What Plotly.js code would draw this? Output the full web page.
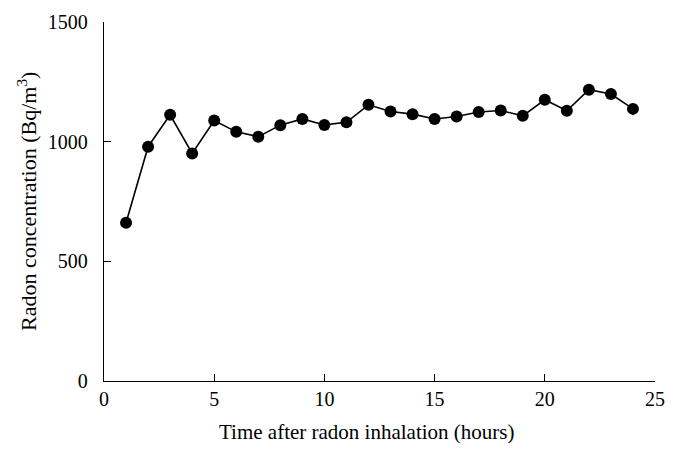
<!DOCTYPE html>
<html>
<head>
<meta charset="utf-8">
<script src="https://cdn.plot.ly/plotly-3.0.1.min.js"></script>
<style>html,body{margin:0;padding:0;background:#fff;}#chart{width:678px;height:456px;}</style>
</head>
<body>
<div id="chart"></div>
<script>
const hours = [1,2,3,4,5,6,7,8,9,10,11,12,13,14,15,16,17,18,19,20,21,22,23,24];
const radon = [661,979,1112,951,1088,1041,1021,1069,1095,1070,1081,1154,1126,1115,1095,1105,1124,1130,1108,1175,1129,1217,1199,1137];
const xTicks = [0,5,10,15,20,25];
const yTicks = [0,500,1000,1500];
const xTitle = 'Time after radon inhalation (hours)';
const yTitle = 'Radon concentration (Bq/m<sup>3</sup>)';

const fontFam = '"Liberation Serif", "DejaVu Serif", serif';
const L = 104, R = 23, T = 22, B = 75, W = 678, H = 456;
const pw = W - L - R, ph = H - T - B;

Plotly.newPlot('chart', [{
  x: hours, y: radon, type: 'scatter', mode: 'lines+markers',
  line: {color: '#000', width: 1.6},
  marker: {color: '#000', size: 12},
  cliponaxis: false
}], {
  width: W, height: H,
  margin: {l: L, r: R, t: T, b: B},
  paper_bgcolor: '#fff', plot_bgcolor: '#fff',
  showlegend: false,
  font: {family: fontFam, color: '#000', size: 20},
  xaxis: {
    range: [0, 25], tickvals: xTicks, ticktext: xTicks.map(String),
    showline: true, linecolor: '#000', linewidth: 1.3,
    ticks: 'inside', ticklen: 7, tickwidth: 1.3, tickcolor: '#000',
    showgrid: false, zeroline: false,
    tickfont: {family: fontFam, size: 20}, ticklabelstandoff: 0
  },
  yaxis: {
    range: [0, 1500], tickvals: yTicks, ticktext: yTicks.map(String),
    showline: true, linecolor: '#000', linewidth: 1.3,
    ticks: 'inside', ticklen: 7, tickwidth: 1.3, tickcolor: '#000',
    showgrid: false, zeroline: false,
    tickfont: {family: fontFam, size: 20}, ticklabelstandoff: 11
  },
  annotations: [
    {text: xTitle, xref: 'paper', yref: 'paper', x: (367 - L) / pw, y: (H - B - 432) / ph,
     xanchor: 'center', yanchor: 'middle', showarrow: false, font: {family: fontFam, size: 21}},
    {text: yTitle, xref: 'paper', yref: 'paper', x: (27 - L) / pw, y: (H - B - 202) / ph,
     xanchor: 'center', yanchor: 'middle', textangle: -90, showarrow: false, font: {family: fontFam, size: 22}}
  ]
}, {displayModeBar: false, staticPlot: true});
</script>
</body>
</html>
